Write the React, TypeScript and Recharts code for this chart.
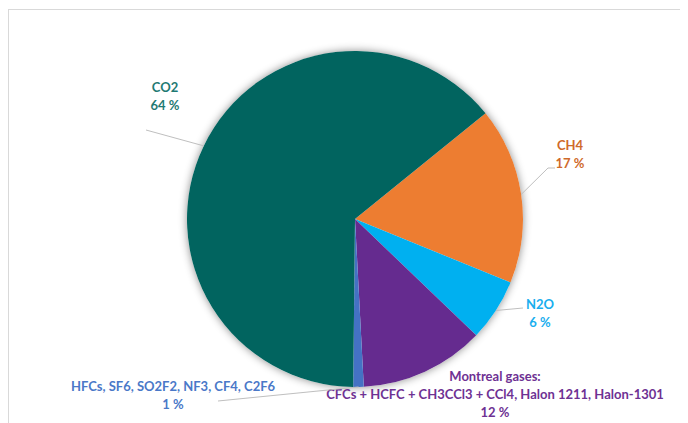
import { Pie, PieChart, Cell } from 'recharts';

const categories = [
  'CH4',
  'N2O',
  'Montreal gases:\nCFCs + HCFC + CH3CCl3 + CCl4, Halon 1211, Halon-1301',
  'HFCs, SF6, SO2F2, NF3, CF4, C2F6',
  'CO2',
];
const shares = [17, 6, 12, 1, 64];

const SLICE_COLORS = ['#ED7D31', '#00B0F0', '#652B8F', '#4472C4', '#01645F'];
const TEXT_COLORS = ['#CF6A2A', '#19AEEE', '#6E3193', '#4A78C8', '#1F7A73'];

// label placement, relative to the pie centre (hand-placed like the original)
const LABEL_LAYOUT: { x: number; y: number; line?: [number, number][] }[] = [
  { x: 215, y: -74, line: [[193, -51], [200, -51]] },
  { x: 185, y: 85, line: [[168, 89]] },
  { x: 140, y: 157 },
  { x: -182, y: 167, line: [[-137, 182]] },
  { x: -190, y: -132, line: [[-209, -89]] },
];

const data = categories.map((name, i) => ({ name, value: shares[i] }));
const shadowData = [{ name: 'all', value: 1 }];

const RAD = Math.PI / 180;
const FONT = 'Lato, "Open Sans", sans-serif';
const LINE_H = 18;

function renderLabel(props: any) {
  const { cx, cy, midAngle, outerRadius, index, name, value } = props;
  const lay = LABEL_LAYOUT[index];
  const sx = cx + outerRadius * Math.cos(-midAngle * RAD);
  const sy = cy + outerRadius * Math.sin(-midAngle * RAD);
  const lines = [...String(name).split('\n'), `${value} %`];
  const pts = lay.line ? [[sx, sy], ...lay.line.map(([x, y]) => [cx + x, cy + y])] : null;
  return (
    <g key={`lbl-${index}`}>
      {pts && (
        <polyline
          points={pts.map((p) => p.join(',')).join(' ')}
          fill="none"
          stroke="#bfbfbf"
          strokeWidth={1}
        />
      )}
      {lines.map((t, k) => (
        <text
          key={k}
          x={cx + lay.x}
          y={cy + lay.y + k * LINE_H}
          textAnchor="middle"
          dominantBaseline="central"
          fill={TEXT_COLORS[index]}
          fontSize={13}
          fontWeight={700}
          fontFamily={FONT}
        >
          {t}
        </text>
      ))}
    </g>
  );
}

export default function App() {
  return (
    <div style={{ width: 672, height: 420, border: '1px solid #d9d9d9', marginTop: 1, background: '#fff' }}>
      <PieChart width={672} height={420}>
        <Pie
          data={shadowData}
          dataKey="value"
          cx={341}
          cy={204}
          outerRadius={168}
          startAngle={0}
          endAngle={360}
          stroke="none"
          isAnimationActive={false}
          label={false}
          labelLine={false}
        >
          <Cell fill="#ffffff" style={{ filter: 'drop-shadow(0px 0px 4px rgba(0,0,0,0.45))' }} />
        </Pie>
        <Pie
          data={data}
          dataKey="value"
          nameKey="name"
          cx={341}
          cy={204}
          outerRadius={168}
          startAngle={39}
          endAngle={-321}
          stroke="none"
          isAnimationActive={false}
          labelLine={false}
          label={renderLabel}
        >
          {data.map((d, i) => (
            <Cell key={d.name} fill={SLICE_COLORS[i]} />
          ))}
        </Pie>
      </PieChart>
    </div>
  );
}
